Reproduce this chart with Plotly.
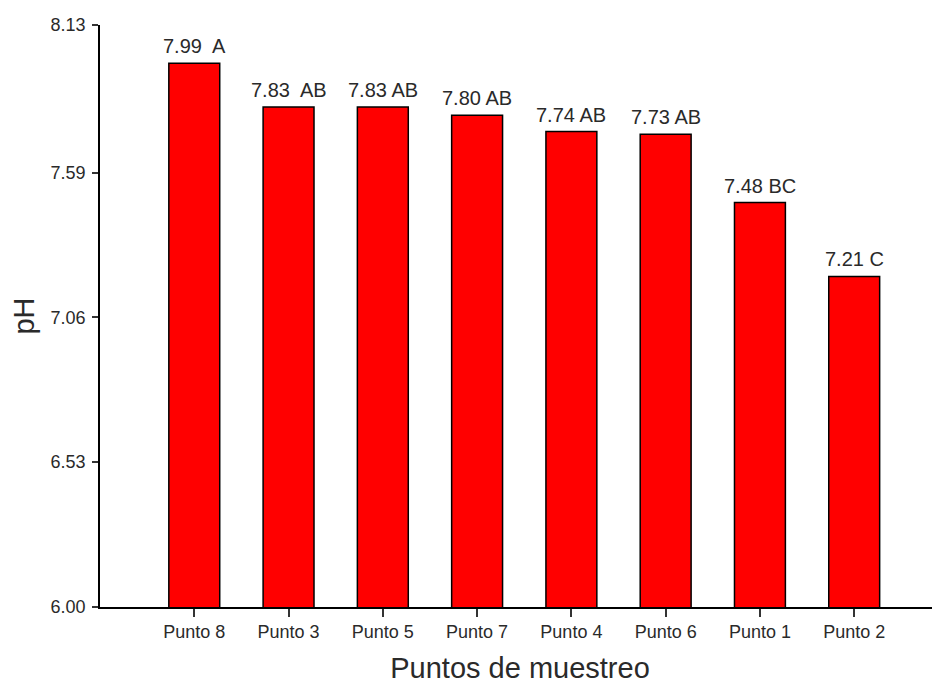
import plotly.graph_objects as go

categories = ["Punto 8", "Punto 3", "Punto 5", "Punto 7", "Punto 4", "Punto 6", "Punto 1", "Punto 2"]
ph_values = [7.99, 7.83, 7.83, 7.80, 7.74, 7.73, 7.48, 7.21]
bar_labels = ["7.99  A", "7.83  AB", "7.83 AB", "7.80 AB", "7.74 AB", "7.73 AB", "7.48 BC", "7.21 C"]
y_ticks = [6.00, 6.53, 7.06, 7.59, 8.13]

x_idx = list(range(len(categories)))
font_family = "Liberation Sans, Arial, sans-serif"
txt = "#2a2a2a"

fig = go.Figure()
fig.add_trace(go.Bar(
    x=x_idx, y=ph_values, width=0.54,
    marker=dict(color="#ff0000", line=dict(color="black", width=1.5)),
    hoverinfo="skip",
))

for xi, v, lab in zip(x_idx, ph_values, bar_labels):
    fig.add_annotation(x=xi, y=v, text=lab, showarrow=False, yanchor="bottom",
                       yshift=4, font=dict(family=font_family, size=20, color=txt))

fig.update_layout(
    width=940, height=683,
    margin=dict(l=92, r=8, t=17, b=84),
    plot_bgcolor="white", paper_bgcolor="white",
    showlegend=False,
    font=dict(family=font_family, color=txt),
    xaxis=dict(
        range=[-1.0, 7.91],
        tickmode="array", tickvals=x_idx, ticktext=categories,
        ticks="outside", ticklen=8, tickwidth=1.5, tickcolor="#333",
        showline=True, linecolor="black", linewidth=1.5,
        showgrid=False, zeroline=False,
        tickfont=dict(size=18, color=txt),
        title=dict(text="Puntos de muestreo", font=dict(size=29, color=txt), standoff=16),
    ),
    yaxis=dict(
        range=[6.0, 8.13],
        tickmode="array", tickvals=y_ticks, ticktext=[f"{t:.2f}" for t in y_ticks],
        ticks="outside", ticklen=6, tickwidth=1.5, tickcolor="#333",
        showline=True, linecolor="black", linewidth=1.5,
        showgrid=False, zeroline=False,
        tickfont=dict(size=18, color=txt),
        ticklabelstandoff=3,
        title=dict(text="pH", font=dict(size=29, color=txt), standoff=10),
    ),
)

fig.write_html("out.html")
